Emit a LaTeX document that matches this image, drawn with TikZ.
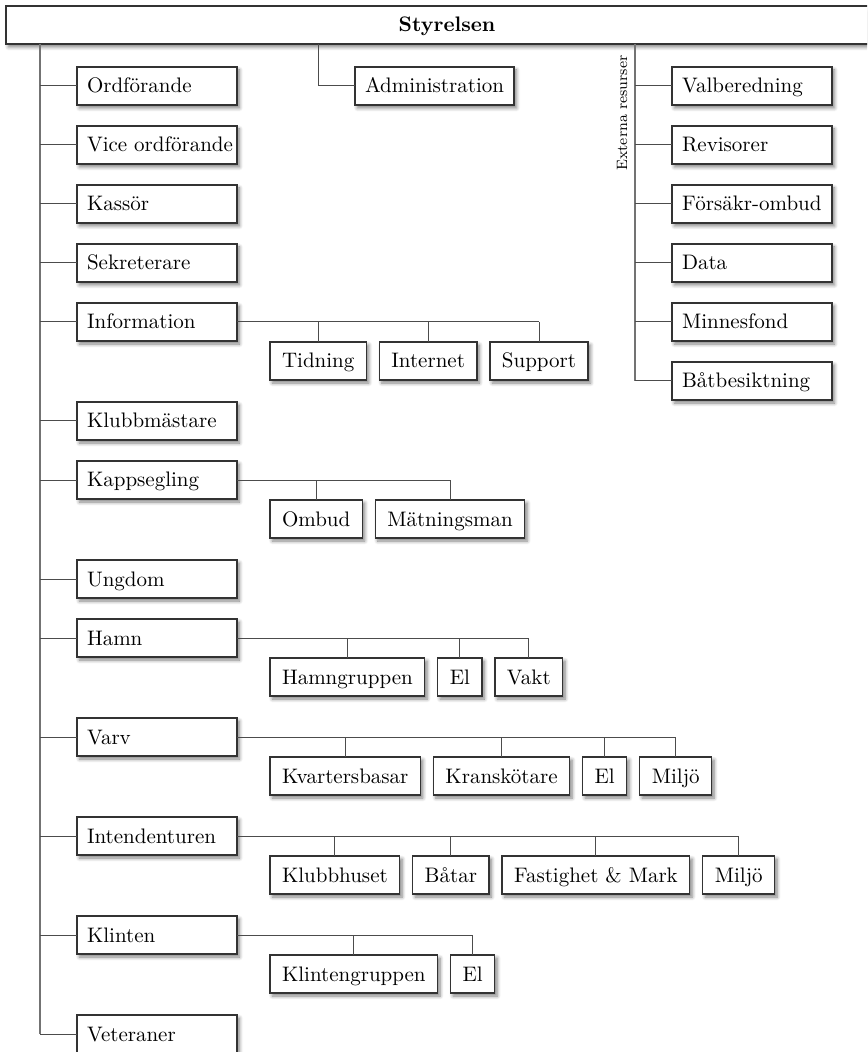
\documentclass[tikz,border=0pt]{standalone}
\usepackage{tikz}
\usetikzlibrary{positioning,shadows.blur}

\begin{document}
\begin{tikzpicture}[%
  font=\fontsize{10.5}{12}\selectfont,
  boxbase/.style={
    draw=black!80,
    line width=0.65pt,
    fill=white,
    blur shadow={shadow xshift=1.2pt, shadow yshift=-1.5pt,
      shadow blur radius=1.8pt, shadow blur steps=6, shadow opacity=50},
    outer sep=0pt,
    inner xsep=5pt,
    inner ysep=3.5pt,
    text height=9.5pt,
    text depth=2.5pt,
    minimum height=19pt},
  mainbox/.style={boxbase, text width=70pt, align=left},
  subbox/.style={boxbase, inner xsep=6pt},
  link/.style={draw=black!70, line width=0.5pt},
  trunk/.style={draw=black!55, line width=0.8pt}
  ]
  \useasboundingbox (0,0) rectangle (433.5pt,-526pt);
  \clip (0,0) rectangle (433.5pt,-526pt);
  %% Nodes
  \node[boxbase, minimum width=441pt] (styr) at (223.5pt,-12.5pt) {\bfseries Styrelsen};
  \coordinate (trk) at (20pt,-22pt);
  \coordinate (admtop) at (159pt,-22pt);
  \coordinate (ext) at (317.5pt,-22pt);

  \node[mainbox, anchor=west] (ordf) at (38.5pt,-43pt) {Ordförande};
  \node[mainbox, below=10.5pt of ordf] (vice) {\mbox{Vice ordförande}};
  \node[mainbox, below=10.5pt of vice] (kass) {Kassör};
  \node[mainbox, below=10.5pt of kass] (sekr) {Sekreterare};
  \node[mainbox, below=10.5pt of sekr] (info) {Information};
  \node[mainbox, below=30.5pt of info] (klubb) {Klubbmästare};
  \node[mainbox, below=10.5pt of klubb] (kapp) {Kappsegling};
  \node[mainbox, below=30.5pt of kapp] (ungd) {Ungdom};
  \node[mainbox, below=10.5pt of ungd] (hamn) {Hamn};
  \node[mainbox, below=30.5pt of hamn] (varv) {Varv};
  \node[mainbox, below=30.5pt of varv] (intd) {Intendenturen};
  \node[mainbox, below=30.5pt of intd] (klint) {Klinten};
  \node[mainbox, below=30.5pt of klint] (vet) {Veteraner};

  \node[subbox, inner xsep=5pt, anchor=west] (adm) at (177.5pt,-43pt) {Administration};

  \node[mainbox, anchor=west] (valb) at (336pt,-43pt) {Valberedning};
  \node[mainbox, below=10.5pt of valb] (revi) {Revisorer};
  \node[mainbox, below=10.5pt of revi] (fors) {\mbox{Försäkr-ombud}};
  \node[mainbox, below=10.5pt of fors] (data) {Data};
  \node[mainbox, below=10.5pt of data] (minn) {Minnesfond};
  \node[mainbox, below=10.5pt of minn] (batb) {Båtbesiktning};
  \node[rotate=90, font=\fontsize{7.5}{9}\selectfont] (extlbl) at (311pt,-56.5pt) {Externa resurser};

  % sub groups
  \node[subbox, below right=10pt and 16.5pt of info.east] (tid) {Tidning};
  \node[subbox, right=6.5pt of tid] (inet) {Internet};
  \node[subbox, right=6.5pt of inet] (supp) {Support};

  \node[subbox, below right=10pt and 16.5pt of kapp.east] (ombd) {Ombud};
  \node[subbox, right=6.5pt of ombd] (matn) {Mätningsman};

  \node[subbox, below right=10pt and 16.5pt of hamn.east] (hgrp) {Hamngruppen};
  \node[subbox, right=6.5pt of hgrp] (hel) {El};
  \node[subbox, right=6.5pt of hel] (vakt) {Vakt};

  \node[subbox, below right=10pt and 16.5pt of varv.east] (kvar) {Kvartersbasar};
  \node[subbox, right=6.5pt of kvar] (kran) {Kranskötare};
  \node[subbox, right=6.5pt of kran] (vel) {El};
  \node[subbox, right=6.5pt of vel] (vmil) {Miljö};

  \node[subbox, below right=10pt and 16.5pt of intd.east] (khus) {Klubbhuset};
  \node[subbox, right=6.5pt of khus] (batr) {Båtar};
  \node[subbox, right=6.5pt of batr] (fast) {Fastighet \& Mark};
  \node[subbox, right=6.5pt of fast] (imil) {Miljö};

  \node[subbox, below right=10pt and 16.5pt of klint.east] (kgrp) {Klintengruppen};
  \node[subbox, right=6.5pt of kgrp] (kel) {El};

  %% Edges
  \draw[trunk] (trk) -- (trk |- vet.west);
  \foreach \n in {ordf,vice,kass,sekr,info,klubb,kapp,ungd,hamn,varv,intd,klint,vet}
    \draw[link] (\n.west) -- (\n.west -| trk);
  \draw[link] (admtop) |- (adm.west);
  \draw[trunk] (ext) -- (ext |- batb.west);
  \foreach \n in {valb,revi,fors,data,minn,batb}
    \draw[link] (\n.west) -- (\n.west -| ext);

  \draw[link] (info.east) -- (info.east -| supp.north);
  \foreach \s in {tid,inet,supp}
    \draw[link] (\s.north) -- (\s.north |- info.east);
  \draw[link] (kapp.east) -- (kapp.east -| matn.north);
  \foreach \s in {ombd,matn}
    \draw[link] (\s.north) -- (\s.north |- kapp.east);
  \draw[link] (hamn.east) -- (hamn.east -| vakt.north);
  \foreach \s in {hgrp,hel,vakt}
    \draw[link] (\s.north) -- (\s.north |- hamn.east);
  \draw[link] (varv.east) -- (varv.east -| vmil.north);
  \foreach \s in {kvar,kran,vel,vmil}
    \draw[link] (\s.north) -- (\s.north |- varv.east);
  \draw[link] (intd.east) -- (intd.east -| imil.north);
  \foreach \s in {khus,batr,fast,imil}
    \draw[link] (\s.north) -- (\s.north |- intd.east);
  \draw[link] (klint.east) -- (klint.east -| kel.north);
  \foreach \s in {kgrp,kel}
    \draw[link] (\s.north) -- (\s.north |- klint.east);
\end{tikzpicture}
\end{document}
